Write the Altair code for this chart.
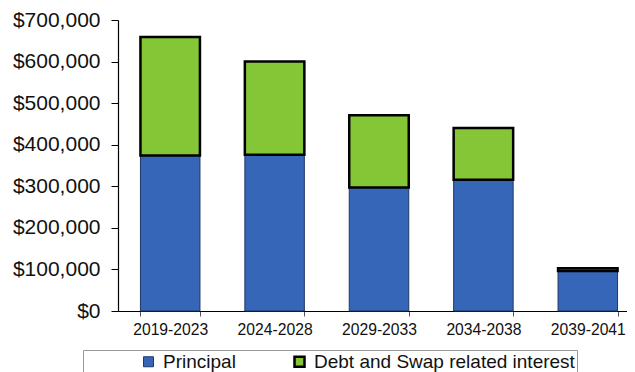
import altair as alt
import pandas as pd

periods = ["2019-2023", "2024-2028", "2029-2033", "2034-2038", "2039-2041"]
principal = [374000, 376000, 297000, 316000, 96000]
interest = [285000, 224000, 174000, 124000, 7000]
series_names = ["Principal", "Debt and Swap related interest"]
fill_colors = ["#3566B8", "#84C636"]
edge_colors = ["#1F3864", "#000000"]
y_ticks = [0, 100000, 200000, 300000, 400000, 500000, 600000, 700000]

rows = []
for p, a, b in zip(periods, principal, interest):
    rows.append({"period": p, "series": series_names[0], "amount": a, "k": 0})
    rows.append({"period": p, "series": series_names[1], "amount": b, "k": 1})
df = pd.DataFrame(rows)

FONT = "Liberation Sans"

chart = alt.Chart(df).mark_bar().encode(
    x=alt.X(
        "period:N",
        sort=periods,
        scale=alt.Scale(paddingInner=0.43, paddingOuter=0.215, range=[0, 522]),
        axis=alt.Axis(
            title=None, labelAngle=0, tickBand="extent", tickSize=5,
            labelPadding=6, labelFontSize=15.7, labelFont=FONT, labelColor="#111",
            domainColor="#000", tickColor="#555", domainWidth=1.2,
        ),
    ),
    y=alt.Y(
        "amount:Q",
        stack="zero",
        scale=alt.Scale(domain=[0, 700000], nice=False),
        axis=alt.Axis(
            title=None, values=y_ticks, format="$,.0f", grid=False,
            tickSize=7, labelPadding=11, labelFontSize=21, labelFont=FONT,
            labelColor="#111", domainColor="#000", tickColor="#000", domainWidth=1.2,
        ),
    ),
    color=alt.Color(
        "series:N",
        scale=alt.Scale(domain=series_names, range=fill_colors),
        legend=alt.Legend(
            title=None, orient="none", legendX=-35, legendY=330,
            direction="horizontal", labelFontSize=19, labelFont=FONT,
            labelColor="#111", symbolType="square", symbolSize=100,
            strokeColor="#999", padding=2, columnPadding=0,
            symbolOffset=54, labelOffset=5, labelLimit=400,
        ),
    ),
    stroke=alt.Stroke("series:N", scale=alt.Scale(domain=series_names, range=edge_colors)),
    strokeWidth=alt.StrokeWidth("series:N", scale=alt.Scale(domain=series_names, range=[1, 2.5])),
    order=alt.Order("k:Q"),
).properties(
    width=509,
    height=291,
    autosize=alt.AutoSizeParams(type="none"),
    padding={"left": 110, "top": 12, "right": 0, "bottom": 61},
).configure_view(stroke=None)

chart.save("out.html", embed_options={"renderer": "svg", "actions": False})
